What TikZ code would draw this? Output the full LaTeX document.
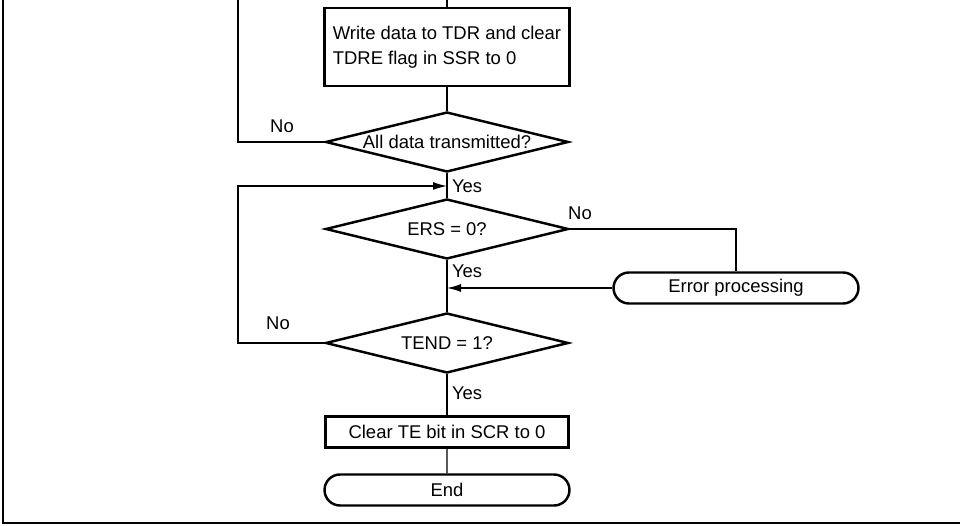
\documentclass[tikz,border=0pt]{standalone}
\usepackage{fontspec}
\setmainfont{Liberation Sans}
\usetikzlibrary{shapes.geometric,shapes.misc,arrows.meta}

\begin{document}
\begin{tikzpicture}[
    x=0.02cm, y=-0.02cm,
    >={Latex[length=2.8mm,width=1.6mm]},
    font=\fontsize{10.5}{14}\selectfont,
    proc/.style={
        draw,
        rectangle,
        line width=1.4pt,
        minimum width=4.9cm,
        minimum height=0.62cm,
        align=left,
        inner sep=2pt
    },
    decision/.style={
        draw,
        diamond,
        line width=1.4pt,
        shape aspect=4.05,
        minimum width=4.86cm,
        minimum height=1.2cm,
        inner sep=0pt
    },
    terminal/.style={
        draw,
        rounded rectangle,
        line width=1.4pt,
        minimum width=4.9cm,
        minimum height=0.62cm,
        inner sep=0pt
    },
    flow/.style={line width=0.75pt},
    tag/.style={inner sep=1pt}
]
\useasboundingbox (0,0) rectangle (960,526);

% outer frame
\draw[line width=1.7pt] (3,0) -- (3,523) -- (960,523);

\node[proc, minimum height=1.56cm] (write) at (447,47) {Write data to TDR and clear\\TDRE flag in SSR to 0};
\node[decision] (alldone) at (447,142) {All data transmitted?};
\node[decision] (ers) at (447,229) {ERS = 0?};
\node[terminal] (err) at (736,288) {Error processing};
\node[decision] (tend) at (447,343) {TEND = 1?};
\node[proc, align=center, minimum width=4.86cm] (clearte) at (447,432) {Clear TE bit in SCR to 0};
\node[terminal] (finish) at (447,490) {End};

\coordinate (topM) at (447,0);
\coordinate (topL) at (238,0);
\coordinate (loopL) at (238,186);
\coordinate (j1) at (447,186);
\coordinate (j2) at (447,288);

\draw[flow] (topM) -- (write);
\draw[flow] (write) -- (alldone);
\draw[flow] (alldone.west) -| (topL);
\draw[flow] (alldone) -- (ers);
\draw[flow] (ers) -- (tend);
\draw[flow] (ers.east) -| (err.north);
\draw[flow,->] (err.west) -- (j2);
\draw[flow,->] (tend.west) -| (loopL) -- (j1);
\draw[flow] (tend) -- (clearte);
\draw[flow] (clearte) -- (finish);

\node[tag] at (282,126) {No};
\node[tag, anchor=west] at (450,186) {Yes};
\node[tag] at (580,213) {No};
\node[tag, anchor=west] at (450,271) {Yes};
\node[tag] at (278,323) {No};
\node[tag, anchor=west] at (450,393) {Yes};
\end{tikzpicture}
\end{document}
